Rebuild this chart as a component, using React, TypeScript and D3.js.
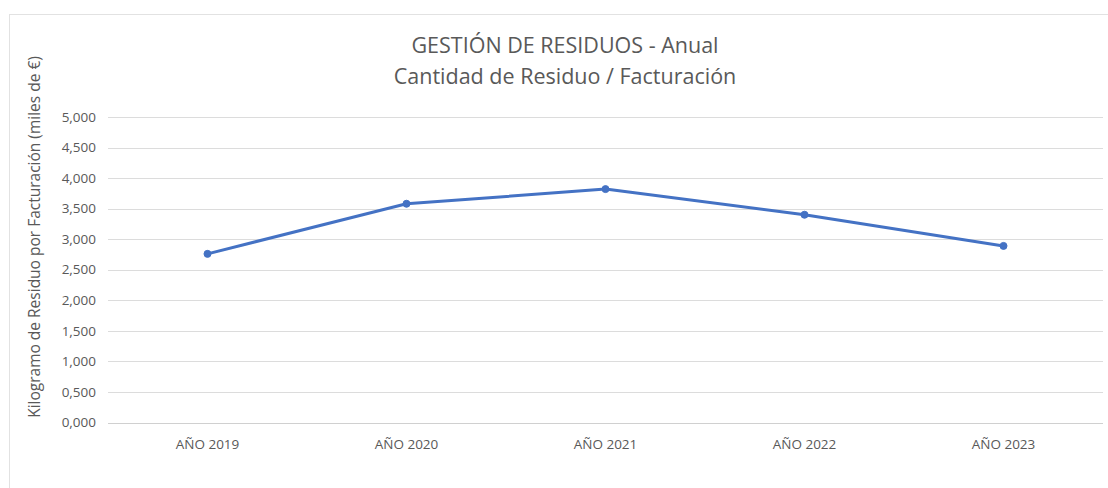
import React from "react";
import { scaleBand, scaleLinear, line } from "d3";

const years = ["AÑO 2019", "AÑO 2020", "AÑO 2021", "AÑO 2022", "AÑO 2023"];
const kgPerRevenue = [2.76, 3.58, 3.82, 3.4, 2.89];
const yTicks = [0, 0.5, 1, 1.5, 2, 2.5, 3, 3.5, 4, 4.5, 5];

const W = 1108;
const H = 488;
const fontFamily = "'Open Sans', 'Noto Sans', sans-serif";

export default function App() {
  const margin = { top: 117, right: 5, bottom: 65, left: 108 };

  const x = scaleBand()
    .domain(years)
    .range([margin.left, W - margin.right])
    .padding(0);

  const y = scaleLinear()
    .domain([0, 5])
    .range([H - margin.bottom - 0.5, margin.top]);

  const cx = (d: string) => (x(d) ?? 0) + x.bandwidth() / 2;

  const pts = years.map((d, i) => [cx(d), y(kgPerRevenue[i])] as [number, number]);
  const path = line()(pts) ?? "";

  return (
    <svg
      width={W}
      height={H}
      style={{ position: "absolute", left: 0, top: 0, background: "#fff" }}
      fontFamily={fontFamily}
    >
      <rect x={9.5} y={14.5} width={W + 10} height={H - 8} fill="none" stroke="#e2e2e2" />

      <text x={565} y={53} textAnchor="middle" fontSize="21.5" fill="#595959">
        GESTIÓN DE RESIDUOS - Anual
      </text>
      <text x={565} y={84} textAnchor="middle" fontSize="21.5" fill="#595959">
        Cantidad de Residuo / Facturación
      </text>

      {yTicks.map((t) => (
        <g key={t}>
          <line
            x1={margin.left}
            x2={W - margin.right}
            y1={Math.round(y(t)) + 0.5}
            y2={Math.round(y(t)) + 0.5}
            stroke={t === 0 ? "#d0d0d0" : "#dcdcdc"}
          />
          <text
            x={96}
            y={y(t)}
            dy="0.35em"
            textAnchor="end"
            fontSize="13.5"
            fill="#595959"
          >
            {t.toFixed(3).replace(".", ",")}
          </text>
        </g>
      ))}

      <text
        transform={`translate(40, 237) rotate(-90)`}
        textAnchor="middle"
        fontSize="15.5"
        fill="#595959"
      >
        Kilogramo de Residuo por Facturación (miles de €)
      </text>

      {years.map((d) => (
        <text
          key={d}
          x={cx(d)}
          y={449}
          textAnchor="middle"
          fontSize="13.5"
          fill="#595959"
        >
          {d}
        </text>
      ))}

      <path d={path} fill="none" stroke="#4472c4" strokeWidth={3} strokeLinejoin="round" />
      {pts.map((p, i) => (
        <circle key={i} cx={p[0]} cy={p[1]} r={3.5} fill="#4472c4" stroke="#4472c4" />
      ))}
    </svg>
  );
}
